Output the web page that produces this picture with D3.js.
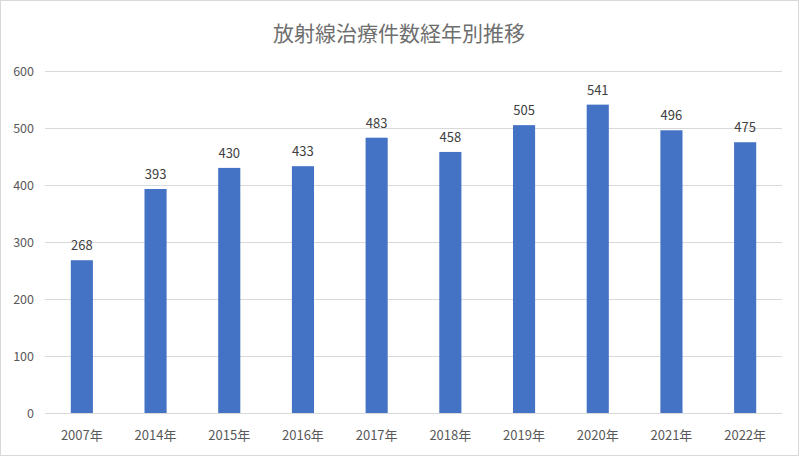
<!DOCTYPE html>
<html><head><meta charset="utf-8">
<script src="https://cdn.jsdelivr.net/npm/d3@7"></script>
<style>body{margin:0;background:#fff;}svg{display:block;font-family:"Noto Sans CJK JP","Noto Sans",sans-serif;}</style>
</head><body>
<script>
const title = "放射線治療件数経年別推移";
const categories = ["2007年","2014年","2015年","2016年","2017年","2018年","2019年","2020年","2021年","2022年"];
const values = [268,393,430,433,483,458,505,541,496,475];
const yTicks = [0,100,200,300,400,500,600];

const W = 800, H = 458;
const svg = d3.select("body").append("svg").attr("width", W).attr("height", H);
svg.append("rect").attr("x",0.5).attr("y",0.5).attr("width",W-2).attr("height",H-3)
  .attr("fill","#fff").attr("stroke","#d9d9d9");

const m = {left:45, right:18, top:71, bottom:45};
const x = d3.scaleBand().domain(categories).range([m.left, W-m.right]).paddingInner(0.7).paddingOuter(0.35);
const y = d3.scaleLinear().domain([0,600]).range([H-m.bottom, m.top]);

svg.append("text").attr("x",399).attr("y",41).attr("text-anchor","middle")
  .attr("font-size",21).attr("fill","#6f6f6f").text(title);

const g = svg.append("g");
g.selectAll(".grid").data(yTicks).join("line")
  .attr("x1",m.left).attr("x2",W-m.right)
  .attr("y1",d=>Math.round(y(d))+0.5).attr("y2",d=>Math.round(y(d))+0.5)
  .attr("stroke","#d9d9d9").attr("stroke-width",1);

g.selectAll(".yl").data(yTicks).join("text")
  .attr("x",34).attr("y",d=>y(d)+4.5).attr("text-anchor","end")
  .attr("font-size",12.5).attr("fill","#595959").text(d=>d);

g.selectAll(".bar").data(values).join("rect")
  .attr("x",(d,i)=>x(categories[i])).attr("width",x.bandwidth())
  .attr("y",d=>y(d)).attr("height",d=>y(0)-y(d)).attr("fill","#4472c4");

g.selectAll(".vl").data(values).join("text")
  .attr("x",(d,i)=>x(categories[i])+x.bandwidth()/2).attr("y",d=>y(d)-10)
  .attr("text-anchor","middle").attr("font-size",13).attr("fill","#404040").text(d=>d);

g.selectAll(".xl").data(categories).join("text")
  .attr("x",d=>x(d)+x.bandwidth()/2).attr("y",H-m.bottom+27)
  .attr("text-anchor","middle").attr("font-size",13).attr("fill","#595959").text(d=>d);
</script>
</body></html>
